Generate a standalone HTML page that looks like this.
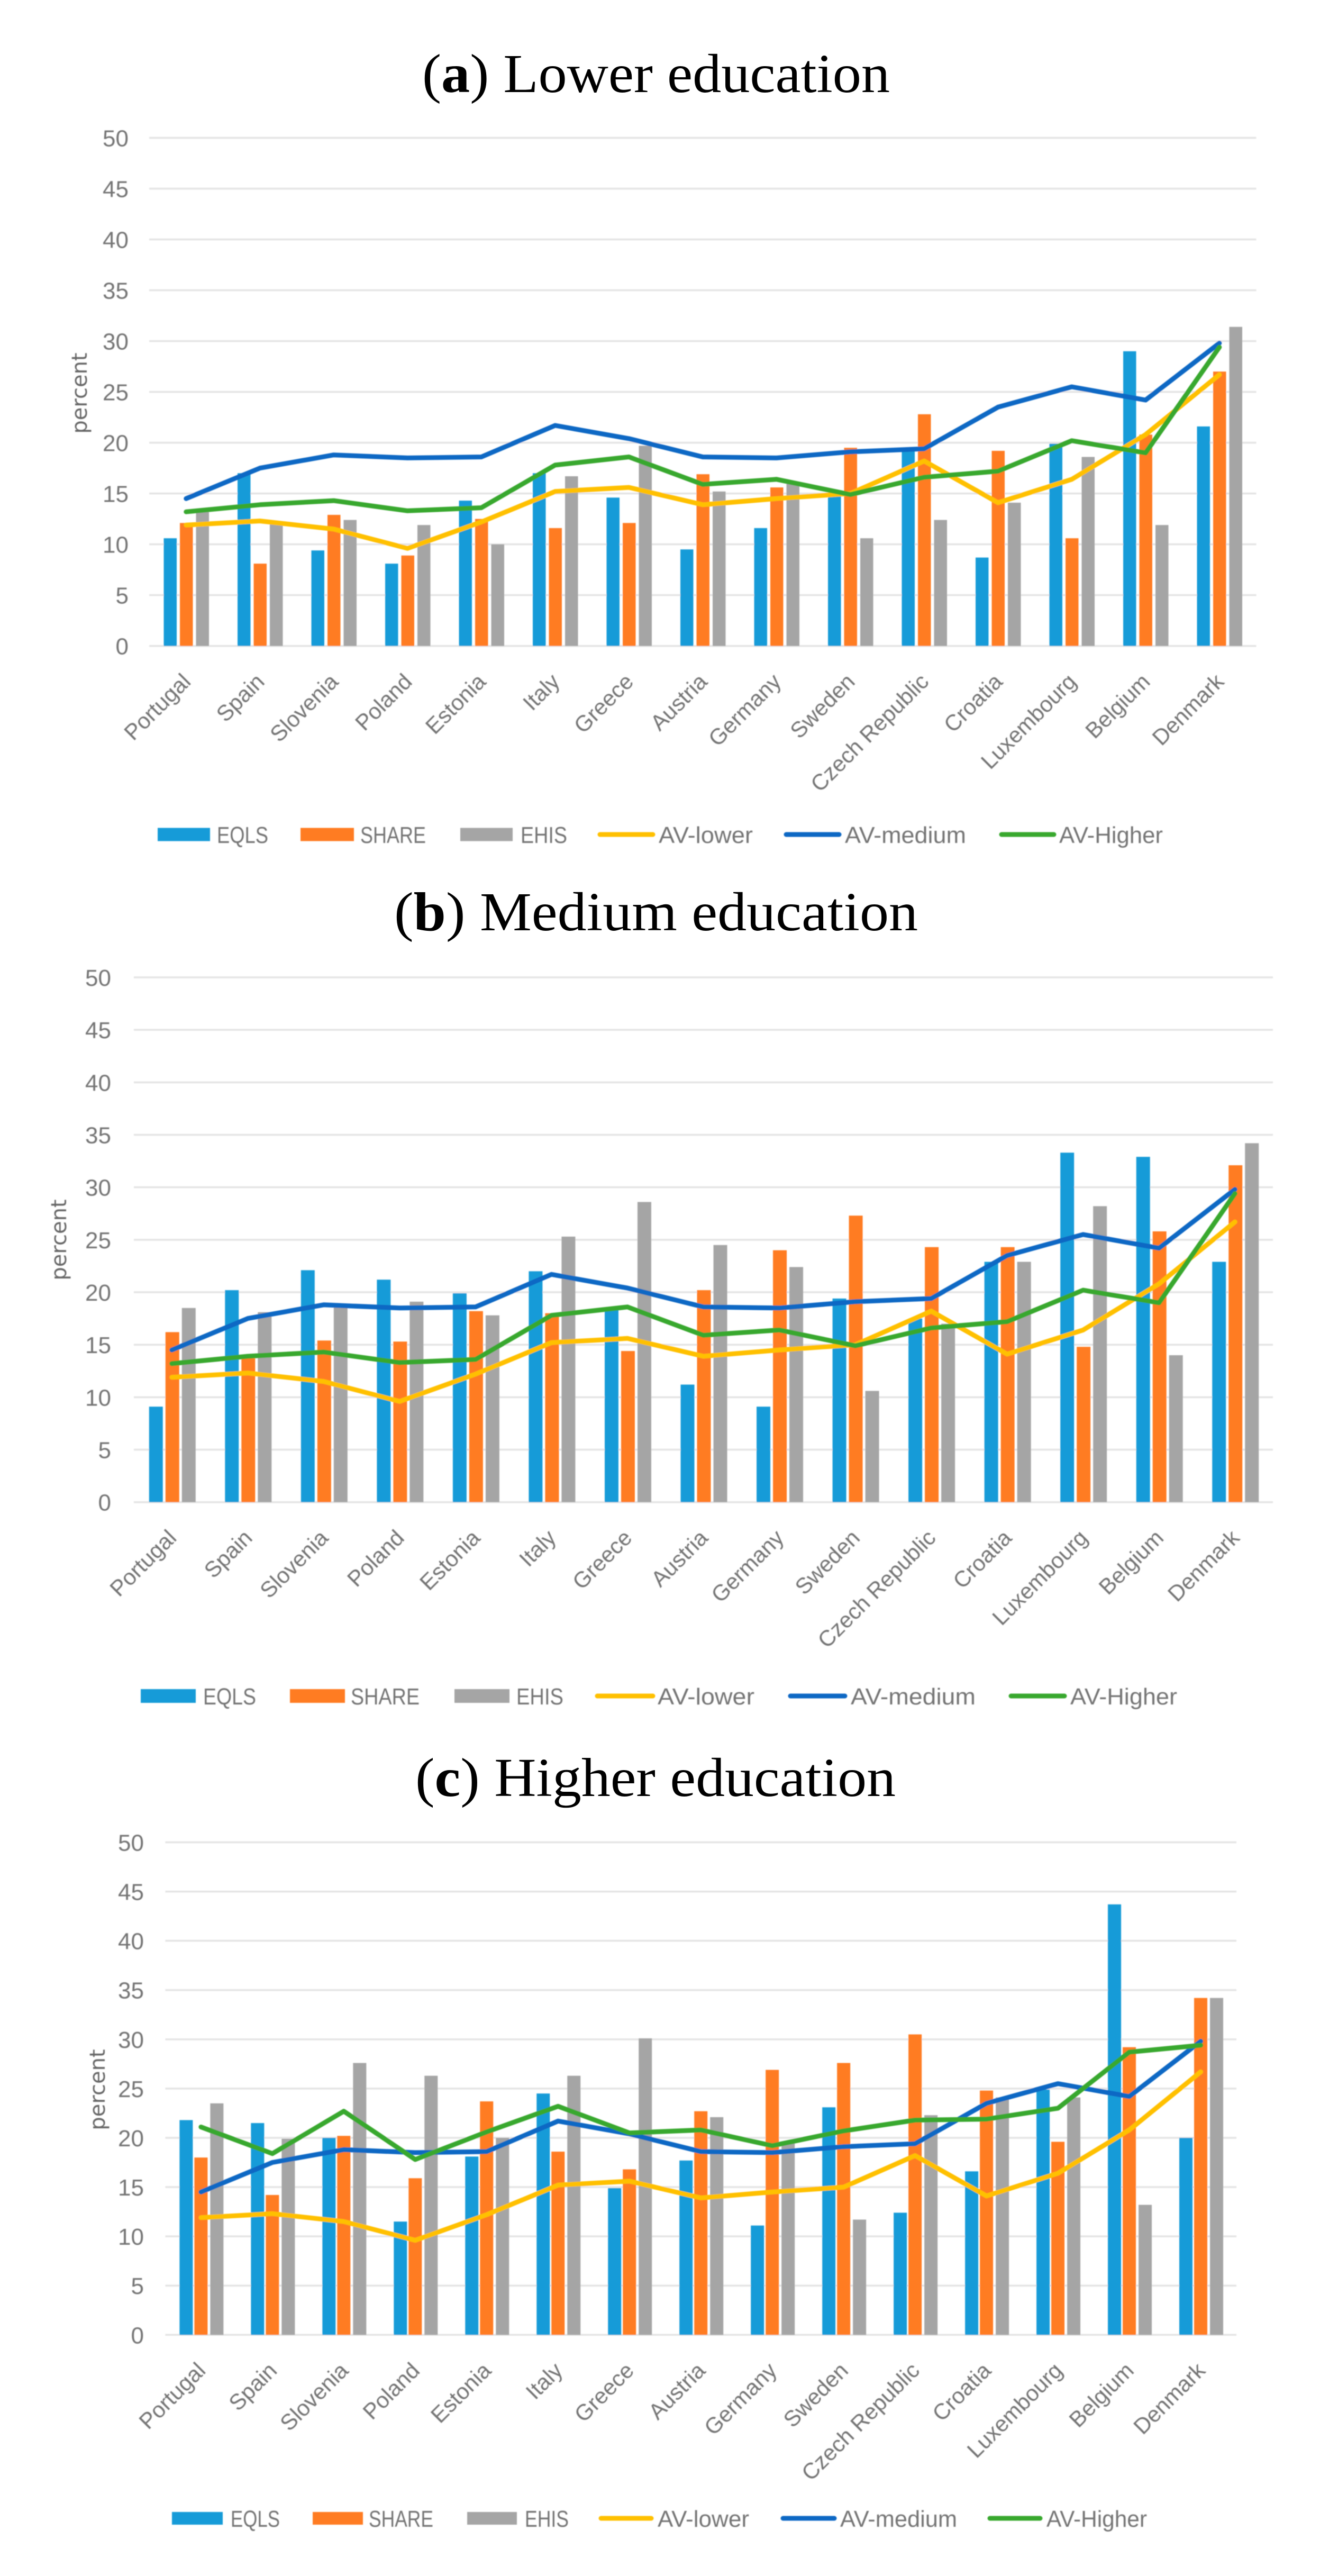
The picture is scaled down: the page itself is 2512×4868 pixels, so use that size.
<!DOCTYPE html>
<html lang="en">
<head>
<meta charset="utf-8">
<title>Percent by country and education level</title>
<style>
html,body{margin:0;padding:0;background:#fff;width:2512px;height:4868px;overflow:hidden}
svg{display:block}
</style>
</head>
<body>
<svg id="figure" xmlns="http://www.w3.org/2000/svg" width="2512" height="4868" viewBox="0 0 2512 4868">
<defs><filter id="soft" x="-2%" y="-2%" width="104%" height="104%"><feGaussianBlur stdDeviation="0.9"/></filter></defs>
<rect x="0" y="0" width="2512" height="4868" fill="#ffffff"/>
<text x="798" y="174" textLength="884" lengthAdjust="spacingAndGlyphs" font-family="'Liberation Serif',serif" font-size="104" fill="#000">(<tspan font-weight="bold">a</tspan>) Lower education</text>
<text x="745" y="1758" textLength="990" lengthAdjust="spacingAndGlyphs" font-family="'Liberation Serif',serif" font-size="104" fill="#000">(<tspan font-weight="bold">b</tspan>) Medium education</text>
<text x="785" y="3394" textLength="908" lengthAdjust="spacingAndGlyphs" font-family="'Liberation Serif',serif" font-size="104" fill="#000">(<tspan font-weight="bold">c</tspan>) Higher education</text>
</svg>
<script>
const categories = ["Portugal","Spain","Slovenia","Poland","Estonia","Italy","Greece","Austria","Germany","Sweden","Czech Republic","Croatia","Luxembourg","Belgium","Denmark"];
const yTicks = [0,5,10,15,20,25,30,35,40,45,50];

const eqlsLower  = [10.6,17.0,9.4,8.1,14.3,17.0,14.6,9.5,11.6,14.8,19.4,8.7,19.9,29.0,21.6];
const shareLower = [12.1,8.1,12.9,8.9,12.5,11.6,12.1,16.9,15.6,19.5,22.8,19.2,10.6,20.8,27.0];
const ehisLower  = [13.2,12.1,12.4,11.9,10.0,16.7,19.7,15.2,16.0,10.6,12.4,14.1,18.6,11.9,31.4];

const eqlsMedium  = [9.1,20.2,22.1,21.2,19.9,22.0,18.5,11.2,9.1,19.4,17.5,22.9,33.3,32.9,22.9];
const shareMedium = [16.2,13.7,15.4,15.3,18.2,18.0,14.4,20.2,24.0,27.3,24.3,24.3,14.8,25.8,32.1];
const ehisMedium  = [18.5,18.1,18.8,19.1,17.8,25.3,28.6,24.5,22.4,10.6,17.0,22.9,28.2,14.0,34.2];

const eqlsHigher  = [21.8,21.5,20.0,11.5,18.1,24.5,14.9,17.7,11.1,23.1,12.4,16.6,24.9,43.7,20.0];
const shareHigher = [18.0,14.2,20.2,15.9,23.7,18.6,16.8,22.7,26.9,27.6,30.5,24.8,19.6,29.2,34.2];
const ehisHigher  = [23.5,19.9,27.6,26.3,20.0,26.3,30.1,22.1,19.6,11.7,22.3,24.1,24.1,13.2,34.2];

const avLower   = [11.9,12.3,11.5,9.6,12.2,15.2,15.6,13.9,14.5,15.0,18.2,14.1,16.4,20.8,26.7];
const avMedium  = [14.5,17.5,18.8,18.5,18.6,21.7,20.4,18.6,18.5,19.1,19.4,23.5,25.5,24.2,29.8];
const avHigherAB = [13.2,13.9,14.3,13.3,13.6,17.8,18.6,15.9,16.4,14.9,16.6,17.2,20.2,19.0,29.4];
const avHigherC  = [21.1,18.4,22.7,17.8,20.6,23.2,20.5,20.8,19.2,20.7,21.8,21.9,23.0,28.7,29.4];

const COLORS = {eqls:"#159bd8",share:"#ff7c21",ehis:"#a5a5a5",lower:"#ffc000",medium:"#1167c4",higher:"#38a82d"};
const TEXT = "#757575";
const SANS = "'Liberation Sans',sans-serif";
const NS = "http://www.w3.org/2000/svg";
const root = document.getElementById("figure");

function make(tag, attrs, parent){
  const el = document.createElementNS(NS, tag);
  for (const k in attrs) el.setAttribute(k, attrs[k]);
  parent.appendChild(el);
  return el;
}

function drawChart(c){
  const g = make("g", {filter:"url(#soft)"}, root);
  
  

  const yScale = v => c.zeroY - (c.zeroY - c.topY) * v / 50;
  const xBand = (c.right - c.left) / categories.length;
  const xScale = i => c.left + xBand * (i + 0.5);

  yTicks.forEach(t => {
    const line = make("line", {x1:c.left, x2:c.right, y1:yScale(t), y2:yScale(t), stroke:"#e4e4e4", "stroke-width":3.5}, g);
    
    
    const lab = make("text", {x:c.tickX, y:yScale(t)+16, "text-anchor":"end", "font-family":SANS, "font-size":44, fill:TEXT}, g);
    
    
    lab.textContent = t;
  });

  const axisTitle = make("text", {transform:"translate("+c.titleX+","+c.titleY+") rotate(-90)", "text-anchor":"middle", "font-family":"'DejaVu Sans',sans-serif", "font-size":40, fill:"#666666"}, g);
  
  
  axisTitle.textContent = "percent";

  c.bars.forEach((s, si) => {
    s.values.forEach((v, i) => {
      const bar = make("rect", {x:xScale(i)+c.offsets[si]-c.barW/2, y:yScale(v), width:c.barW, height:c.zeroY-yScale(v), fill:s.color}, g);
      
      
    });
  });

  c.lines.forEach(s => {
    const pts = s.values.map((v, i) => xScale(i).toFixed(1)+","+yScale(v).toFixed(1)).join(" ");
    const line = make("polyline", {points:pts, fill:"none", stroke:s.color, "stroke-width":9, "stroke-linejoin":"round", "stroke-linecap":"round"}, g);
    
    
  });

  categories.forEach((name, i) => {
    const x = xScale(i)+11, y = c.zeroY+70;
    const lab = make("text", {transform:"translate("+x.toFixed(1)+","+y.toFixed(1)+") rotate(-45)", "text-anchor":"end", "font-family":SANS, "font-size":42, fill:TEXT}, g);
    
    
    lab.textContent = name;
  });

  c.legend.forEach(e => {
    const entry = make("g", {}, g);
    
    
    if (e.kind === "bar") {
      make("rect", {x:e.x0, y:c.legendY-c.swatchH/2, width:e.x1-e.x0, height:c.swatchH, fill:e.color}, entry);
    } else {
      make("line", {x1:e.x0+3, x2:e.x1-3, y1:c.legendY, y2:c.legendY, stroke:e.color, "stroke-width":9, "stroke-linecap":"round"}, entry);
    }
    const t = make("text", {x:e.t0, y:c.legendY+16, textLength:e.t1-e.t0, lengthAdjust:"spacingAndGlyphs", "font-family":SANS, "font-size":44, fill:TEXT}, entry);
    t.textContent = e.label;
  });
}

drawChart({
  id:"lower-education", left:282, right:2374.5, topY:260.5, zeroY:1220.7, tickX:243, titleX:164, titleY:743,
  barW:24.5, offsets:[-30,0.5,31], legendY:1577, swatchH:25,
  bars:[{values:eqlsLower,color:COLORS.eqls},{values:shareLower,color:COLORS.share},{values:ehisLower,color:COLORS.ehis}],
  lines:[{values:avLower,color:COLORS.lower},{values:avMedium,color:COLORS.medium},{values:avHigherAB,color:COLORS.higher}],
  legend:[
    {kind:"bar",label:"EQLS",color:COLORS.eqls,x0:298,x1:397,t0:410,t1:507},
    {kind:"bar",label:"SHARE",color:COLORS.share,x0:568,x1:669,t0:681,t1:805},
    {kind:"bar",label:"EHIS",color:COLORS.ehis,x0:870,x1:969,t0:984,t1:1072},
    {kind:"line",label:"AV-lower",color:COLORS.lower,x0:1131,x1:1237,t0:1245,t1:1423},
    {kind:"line",label:"AV-medium",color:COLORS.medium,x0:1483,x1:1589,t0:1597,t1:1826},
    {kind:"line",label:"AV-Higher",color:COLORS.higher,x0:1890,x1:1995,t0:2002,t1:2198}
  ]
});

drawChart({
  id:"medium-education", left:253, right:2406, topY:1847, zeroY:2838.7, tickX:210, titleX:125, titleY:2343,
  barW:26, offsets:[-30,1,32], legendY:3205, swatchH:26,
  bars:[{values:eqlsMedium,color:COLORS.eqls},{values:shareMedium,color:COLORS.share},{values:ehisMedium,color:COLORS.ehis}],
  lines:[{values:avLower,color:COLORS.lower},{values:avMedium,color:COLORS.medium},{values:avHigherAB,color:COLORS.higher}],
  legend:[
    {kind:"bar",label:"EQLS",color:COLORS.eqls,x0:266,x1:370,t0:384,t1:484},
    {kind:"bar",label:"SHARE",color:COLORS.share,x0:548,x1:652,t0:663,t1:793},
    {kind:"bar",label:"EHIS",color:COLORS.ehis,x0:859,x1:963,t0:976,t1:1065},
    {kind:"line",label:"AV-lower",color:COLORS.lower,x0:1126,x1:1237,t0:1243,t1:1426},
    {kind:"line",label:"AV-medium",color:COLORS.medium,x0:1491,x1:1600,t0:1608,t1:1844},
    {kind:"line",label:"AV-Higher",color:COLORS.higher,x0:1908,x1:2015,t0:2023,t1:2225}
  ]
});

drawChart({
  id:"higher-education", left:312.4, right:2337, topY:3481.5, zeroY:4412.3, tickX:272, titleX:198, titleY:3949,
  barW:25, offsets:[-28,0,30], legendY:4759, swatchH:24,
  bars:[{values:eqlsHigher,color:COLORS.eqls},{values:shareHigher,color:COLORS.share},{values:ehisHigher,color:COLORS.ehis}],
  lines:[{values:avLower,color:COLORS.lower},{values:avMedium,color:COLORS.medium},{values:avHigherC,color:COLORS.higher}],
  legend:[
    {kind:"bar",label:"EQLS",color:COLORS.eqls,x0:325,x1:421,t0:436,t1:529},
    {kind:"bar",label:"SHARE",color:COLORS.share,x0:591,x1:686,t0:697,t1:819},
    {kind:"bar",label:"EHIS",color:COLORS.ehis,x0:883,x1:977,t0:992,t1:1075},
    {kind:"line",label:"AV-lower",color:COLORS.lower,x0:1133,x1:1234,t0:1243,t1:1416},
    {kind:"line",label:"AV-medium",color:COLORS.medium,x0:1477,x1:1580,t0:1588,t1:1809},
    {kind:"line",label:"AV-Higher",color:COLORS.higher,x0:1868,x1:1969,t0:1978,t1:2168}
  ]
});
</script>
</body>
</html>
